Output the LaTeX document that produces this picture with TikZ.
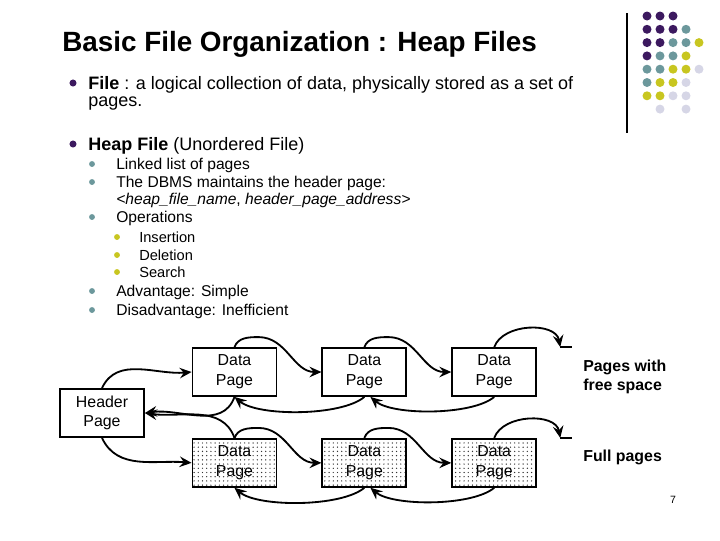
\documentclass[tikz,border=0pt]{standalone}
\usepackage{fontspec}
\setmainfont{Liberation Sans}
\usetikzlibrary{arrows.meta,positioning,calc,patterns}
\definecolor{dotpurple}{RGB}{60,25,95}
\definecolor{dotteal}{RGB}{108,152,156}
\definecolor{dotyellow}{RGB}{200,198,32}
\definecolor{dotlilac}{RGB}{214,214,230}
\tikzset{
  page/.style={draw, line width=1.3pt, minimum height=1.2cm, minimum width=2.1cm, align=center, fill=white, font=\fontsize{11.3}{14}\selectfont},
  fullpage/.style={page, pattern=dots, pattern color=black!80},
  note/.style={anchor=west, inner sep=0pt, align=left, font=\fontsize{11.3}{13.5}\selectfont\bfseries},
  title/.style={anchor=base west, inner sep=0pt, font=\fontsize{19.8}{24}\selectfont\bfseries},
  itemone/.style={anchor=base west, inner sep=0pt, font=\fontsize{12.8}{15}\selectfont},
  itemtwo/.style={anchor=base west, inner sep=0pt, font=\fontsize{11.1}{13}\selectfont},
  itemthree/.style={anchor=base west, inner sep=0pt, font=\fontsize{10.4}{12.4}\selectfont},
  link/.style={-{Stealth[length=8.5pt,width=7.5pt,inset=3pt]}, line width=1.3pt},
  stub/.style={line width=1.3pt}
}
\begin{document}
\begin{tikzpicture}[x=0.025cm, y=-0.025cm, node distance=1.025cm and 1.1cm]
  \useasboundingbox (0,0) rectangle (720,540);

  % corner decoration
  \draw[line width=0.8pt] (627,13) -- (627,133);
  \foreach \c/\r/\col in {0/0/dotpurple,1/0/dotpurple,2/0/dotpurple,
      0/1/dotpurple,1/1/dotpurple,2/1/dotpurple,3/1/dotteal,
      0/2/dotpurple,1/2/dotpurple,2/2/dotteal,3/2/dotteal,4/2/dotyellow,
      0/3/dotpurple,1/3/dotteal,2/3/dotteal,3/3/dotyellow,
      0/4/dotteal,1/4/dotteal,2/4/dotyellow,3/4/dotyellow,4/4/dotlilac,
      0/5/dotteal,1/5/dotyellow,2/5/dotyellow,3/5/dotlilac,
      0/6/dotyellow,1/6/dotyellow,2/6/dotlilac,3/6/dotlilac,
      1/7/dotlilac,3/7/dotlilac}
    \fill[\col] (647+13*\c,16+13.3*\r) circle[radius=3.2pt];

  % title and bullets
  \node[title] (ttl) at (62,51) {Basic File Organization : Heap Files};

  \fill[dotpurple] (73,83) circle[radius=2.5pt];
  \node[itemone] (file) at (88,89) {\textbf{File} : a logical collection of data, physically stored as a set of};
  \node[itemone] (filecont) at (88,106) {pages.};
  \fill[dotpurple] (73,144) circle[radius=2.5pt];
  \node[itemone] (heap) at (88,150) {\textbf{Heap File} (Unordered File)};

  \fill[dotteal] (92,164) circle[radius=2.1pt];
  \node[itemtwo] (linked) at (116,169) {Linked list of pages};
  \fill[dotteal] (92,182) circle[radius=2.1pt];
  \node[itemtwo] (dbms) at (116,187) {The DBMS maintains the header page:};
  \node[itemtwo] (dbmscont) at (116,204) {\textit{<heap\_file\_name}, \textit{header\_page\_address>}};
  \fill[dotteal] (92,217) circle[radius=2.1pt];
  \node[itemtwo] (ops) at (116,222) {Operations};
  \fill[dotyellow] (117,237) circle[radius=2.1pt];
  \node[itemthree] (ins) at (139,242) {Insertion};
  \fill[dotyellow] (117,255) circle[radius=2.1pt];
  \node[itemthree] (del) at (139,260) {Deletion};
  \fill[dotyellow] (117,272) circle[radius=2.1pt];
  \node[itemthree] (srch) at (139,277) {Search};
  \fill[dotteal] (92,291) circle[radius=2.1pt];
  \node[itemtwo] (adv) at (116,296) {Advantage: Simple};
  \fill[dotteal] (92,310) circle[radius=2.1pt];
  \node[itemtwo] (disadv) at (116,315) {Disadvantage: Inefficient};

  % pages
  \node[page] (hdr) at (102,413) {Header\\Page};
  \node[page] (d1) at (234.5,372) {Data\\Page};
  \node[page, right=of d1] (d2) {Data\\Page};
  \node[page, right=of d2] (d3) {Data\\Page};
  \node[fullpage, below=of d1] (f1) {Data\\Page};
  \node[fullpage, right=of f1] (f2) {Data\\Page};
  \node[fullpage, right=of f2] (f3) {Data\\Page};
  \node[note] (freelbl) at (583,376.5) {Pages with\\free space};
  \node[note] (fulllbl) at (583,457) {Full pages};
  \node[font=\fontsize{7.5}{9}\selectfont, inner sep=0pt] (pgno) at (673,500) {7};

  \coordinate (nilA) at ($(d3.north)+(66,0)$);
  \coordinate (nilB) at ($(f3.north)+(66,0)$);

  % header links
  \draw[link] (hdr.north) to[out=65,in=185] (d1.west);
  \draw[link] (hdr.south) to[out=-65,in=175] (f1.west);
  \draw[link] (d1.south) to[out=-110,in=8] (hdr.east);
  \draw[link] (f1.north) to[out=110,in=-8] (hdr.east);

  % next links
  \draw[link] (d1.north) to[out=70,in=180] ++(24,-10) to[out=0,in=180] (d2.west);
  \draw[link] (d2.north) to[out=70,in=180] ++(24,-10) to[out=0,in=180] (d3.west);
  \draw[link] (d3.north) to[out=70,in=100] (nilA);
  \draw[stub] (nilA) -- ++(12,0);
  \draw[link] (f1.north) to[out=70,in=180] ++(24,-10) to[out=0,in=180] (f2.west);
  \draw[link] (f2.north) to[out=70,in=180] ++(24,-10) to[out=0,in=180] (f3.west);
  \draw[link] (f3.north) to[out=70,in=100] (nilB);
  \draw[stub] (nilB) -- ++(12,0);

  % prev links
  \draw[link] (d3.south) to[out=-140,in=-40,looseness=0.6] ([xshift=4.3pt]d2.south);
  \draw[link] (d2.south) to[out=-140,in=-40,looseness=0.6] (d1.south);
  \draw[link] (f3.south) to[out=-140,in=-40,looseness=0.6] ([xshift=4.3pt]f2.south);
  \draw[link] (f2.south) to[out=-140,in=-40,looseness=0.6] (f1.south);
\end{tikzpicture}
\end{document}
